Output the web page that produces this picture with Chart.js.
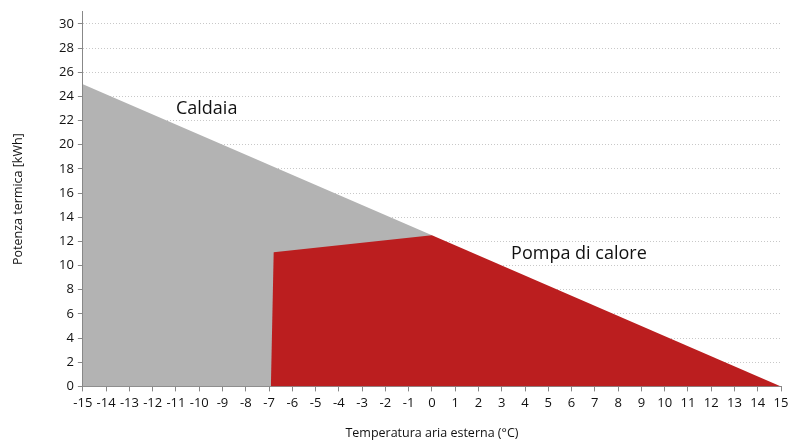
<!DOCTYPE html>
<html>
<head>
<meta charset="utf-8">
<script src="https://cdn.jsdelivr.net/npm/chart.js@4/dist/chart.umd.min.js"></script>
<style>
  html, body { margin: 0; padding: 0; background: #fff; }
  #wrap { width: 788px; height: 441px; }
</style>
</head>
<body>
<div id="wrap"><canvas id="chart"></canvas></div>
<script>
// ====================
// Data
// ====================

const caldaiaX = [-15, 0];
const caldaiaY = [25, 12.5];

const pompaX = [-6.92, -6.8, 0, 15];
const pompaY = [0, 11.1, 12.5, 0];

const yTicks = [0, 2, 4, 6, 8, 10, 12, 14, 16, 18, 20, 22, 24, 26, 28, 30];

const labels = [
  { text: "Caldaia", x: -11, y: 23 },
  { text: "Pompa di calore", x: 3.4, y: 11 },
];

const toPoints = (xs, ys) => xs.map((x, i) => ({ x: x, y: ys[i] }));

// ====================
// Text labels plugin
// ====================

const areaLabels = {
  id: "areaLabels",
  afterDatasetsDraw(chart) {
    const ctx = chart.ctx;
    const xs = chart.scales.x;
    const ys = chart.scales.y;
    ctx.save();
    ctx.font = "18px 'Open Sans'";
    ctx.fillStyle = "#111";
    ctx.textAlign = "left";
    ctx.textBaseline = "middle";
    labels.forEach((l) => {
      ctx.fillText(l.text, xs.getPixelForValue(l.x), ys.getPixelForValue(l.y));
    });
    ctx.restore();
  },
};

// ====================
// Chart
// ====================

Chart.defaults.font.family = "'Open Sans'";
Chart.defaults.color = "#111";

new Chart(document.getElementById("chart"), {
  type: "line",

  data: {
    datasets: [
      {
        label: "Pompa di calore",
        data: toPoints(pompaX, pompaY),
        backgroundColor: "#bb1e1f",
        borderWidth: 0,
        pointRadius: 0,
        fill: "origin",
        tension: 0,
      },
      {
        label: "Caldaia",
        data: toPoints(caldaiaX, caldaiaY),
        backgroundColor: "#b3b3b3",
        borderWidth: 0,
        pointRadius: 0,
        fill: "origin",
        tension: 0,
      },
    ],
  },

  options: {
    responsive: true,
    maintainAspectRatio: false,
    animation: false,

    layout: {
      padding: { left: 11, right: 0, top: 10, bottom: 0 },
    },

    plugins: {
      legend: { display: false },
      tooltip: { enabled: false },
    },

    scales: {
      x: {
        type: "linear",
        min: -15,
        max: 15,
        afterFit: (scale) => {
          scale.paddingRight = 7;
        },
        ticks: {
          stepSize: 1,
          autoSkip: false,
          maxRotation: 0,
          padding: 4,
          font: { size: 13 },
        },
        grid: {
          drawOnChartArea: false,
          tickLength: 5,
          tickColor: "#888",
        },
        border: { color: "#888", width: 1 },
        title: {
          display: true,
          text: "Temperatura aria esterna (°C)",
          font: { size: 12.5 },
          padding: { top: 11, bottom: 0 },
        },
      },

      y: {
        type: "linear",
        min: 0,
        max: 31,
        afterBuildTicks: (scale) => {
          scale.ticks = yTicks.map((v) => ({ value: v }));
        },
        ticks: {
          padding: 4,
          font: { size: 13 },
        },
        grid: {
          color: "#c8c8c8",
          tickColor: "#888",
          tickLength: 5,
          tickBorderDash: [],
        },
        border: { color: "#888", width: 1, dash: [1, 2] },
        title: {
          display: true,
          text: "Potenza termica [kWh]",
          font: { size: 12.5 },
          padding: { top: 0, bottom: 29 },
        },
      },
    },
  },

  plugins: [areaLabels],
});
</script>
</body>
</html>
